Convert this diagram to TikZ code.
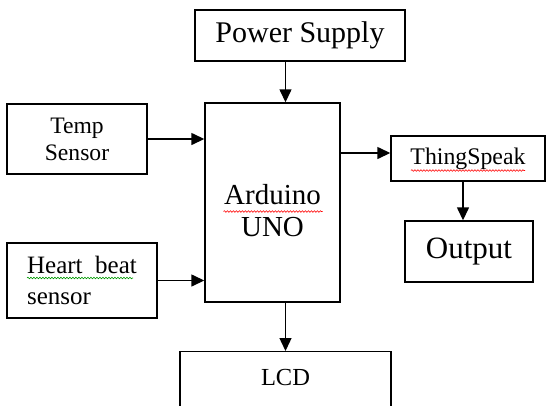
\documentclass[tikz,border=0pt]{standalone}
\usepackage{fontspec}
\setmainfont{Liberation Serif}
\usetikzlibrary{arrows.meta, positioning, calc, decorations.pathmorphing}

\begin{document}
\begin{tikzpicture}[
  x=1pt, y=-1pt,
  >={Triangle[length=13pt,width=12pt]},
  block/.style={draw, line width=1.4pt, align=center, inner sep=0pt},
  arrow/.style={->, line width=1.4pt},
  squiggle/.style={line width=0.6pt, decorate, decoration={snake, segment length=3pt, amplitude=0.8pt}}
]
\useasboundingbox (0,0) rectangle (547,405);

\node[block, minimum width=210pt, minimum height=51pt, font=\fontsize{30}{32}\selectfont] (power) at (300,35.5) {Power Supply};
\node[block, minimum width=135pt, minimum height=199pt,
  label={[align=center, yshift=-8pt, font=\fontsize{29}{32}\selectfont]center:Arduino\\UNO}] (arduino) at (272.5,202.5) {};
\node[block, minimum width=140pt, minimum height=70pt, font=\fontsize{23.6}{27}\selectfont] (temp) at (77,139) {Temp\\Sensor};
\node[block, minimum width=150pt, minimum height=75pt, align=left, font=\fontsize{25}{31}\selectfont] (heart) at (82,280.5) {Heart\ \ beat\\sensor};
\node[block, minimum width=154pt, minimum height=45pt, font=\fontsize{23.8}{27}\selectfont] (thing) at (468,158.5) {ThingSpeak};
\node[block, minimum width=128pt, minimum height=61pt, font=\fontsize{31}{33}\selectfont] (output) at (469,251.5) {Output};
\node[block, anchor=north, minimum width=211pt, inner ysep=9pt, text height=25pt, text depth=40pt, font=\fontsize{24.5}{27}\selectfont] (lcd) at (285.5,351) {LCD};

\draw[arrow] (power.south -| lcd.north) -- (arduino.north -| lcd.north);
\draw[arrow] (temp.east) -- (temp.east -| arduino.west);
\draw[arrow] (heart.east) -- (heart.east -| arduino.west);
\draw[arrow] ([yshift=5.5pt]arduino.east |- thing.west) -- ([yshift=5.5pt]thing.west);
\draw[arrow] ([xshift=-5pt]thing.south) -- ([xshift=-5pt]thing.south |- output.north);
\draw[arrow] (arduino.south -| lcd.north) -- (lcd.north);

% spell-check marks
\draw[squiggle, red] ($(arduino.center)+(-49,9)$) -- ++(99,0);
\draw[squiggle, red] ($(thing.center)+(-57,12)$) -- ++(114,0);
\draw[squiggle, green!60!black] ($(heart.center)+(-55,-2.5)$) -- ++(106,0);
\end{tikzpicture}
\end{document}
